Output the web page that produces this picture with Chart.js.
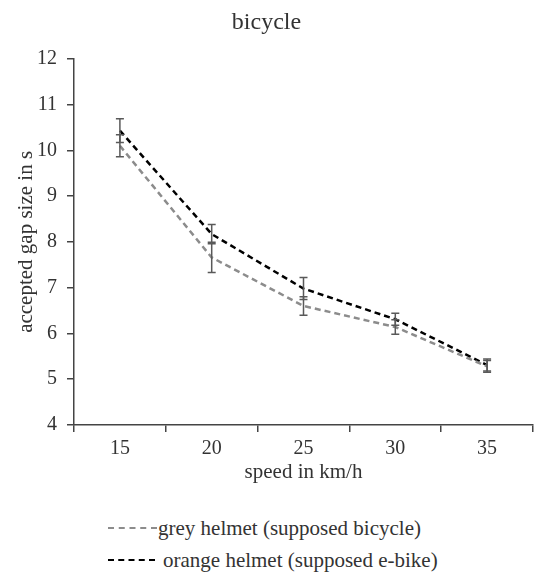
<!DOCTYPE html>
<html>
<head>
<meta charset="utf-8">
<script src="https://cdn.jsdelivr.net/npm/chart.js@4"></script>
<style>
  body { margin: 0; background: #fff; }
  #wrap { position: relative; width: 534px; height: 485px; }
  .legend { position: absolute; left: 108px; font-family: "Liberation Serif", serif; font-size: 21px; line-height: 24px; color: #333; display: flex; align-items: center; }
  .dash { display: inline-block; width: 49px; height: 0; border-top: 2.5px dashed; margin-right: 1px; }
</style>
</head>
<body>
<div id="wrap"><canvas id="gapChart" width="534" height="485"></canvas></div>
<div class="legend" style="top:516px"><span class="dash" style="border-color:#8c8c8c"></span>grey helmet (supposed bicycle)</div>
<div class="legend" style="top:548px"><span class="dash" style="border-color:#000;width:47px;margin-right:8px"></span>orange helmet (supposed e-bike)</div>
<script>
var speeds = ["15", "20", "25", "30", "35"]
var greyHelmet = [10.1, 7.66, 6.6, 6.14, 5.28]
var greyErr = [0.24, 0.33, 0.2, 0.16, 0.13]
var orangeHelmet = [10.43, 8.17, 6.98, 6.31, 5.31]
var orangeErr = [0.26, 0.21, 0.24, 0.13, 0.13]

var errorBars = {
    id: "errorBars",
    afterDatasetsDraw(chart){
        var ctx = chart.ctx
        var y = chart.scales.y
        chart.data.datasets.forEach(function(ds, i){
            var meta = chart.getDatasetMeta(i)
            ctx.save()
            ctx.strokeStyle = "#595959"
            ctx.lineWidth = 1.5
            meta.data.forEach(function(pt, j){
                var top = y.getPixelForValue(ds.data[j] + ds.errors[j])
                var bot = y.getPixelForValue(ds.data[j] - ds.errors[j])
                ctx.beginPath()
                ctx.moveTo(pt.x, top); ctx.lineTo(pt.x, bot)
                ctx.moveTo(pt.x - 4, top); ctx.lineTo(pt.x + 4, top)
                ctx.moveTo(pt.x - 4, bot); ctx.lineTo(pt.x + 4, bot)
                ctx.stroke()
            })
            ctx.restore()
        })
    }
}

var canvas = document.querySelector("#gapChart")
var serif = "'Liberation Serif', 'Times New Roman', serif"

var chart = new Chart(canvas, {
    type: "line",
    data: {
        labels: speeds,
        datasets: [{
            label: "grey helmet (supposed bicycle)",
            data: greyHelmet,
            errors: greyErr,
            borderColor: "#8c8c8c",
            borderWidth: 2.5,
            borderDash: [6, 4],
            pointRadius: 0,
            fill: false
        }, {
            label: "orange helmet (supposed e-bike)",
            data: orangeHelmet,
            errors: orangeErr,
            borderColor: "#000",
            borderWidth: 2.5,
            borderDash: [6, 4],
            pointRadius: 0,
            fill: false
        }]
    },
    options: {
        responsive: false,
        animation: false,
        layout: { padding: { top: 0, right: 1, bottom: 0, left: 0 } },
        plugins: {
            legend: { display: false },
            tooltip: { enabled: false },
            title: {
                display: true,
                text: "bicycle",
                color: "#333",
                font: { family: serif, size: 24, weight: "normal" },
                padding: { top: 8, bottom: 22 }
            }
        },
        scales: {
            x: {
                offset: true,
                afterFit: function(s){ s.height = 60 },
                border: { color: "#444", width: 1.5 },
                grid: { offset: true, drawOnChartArea: false, tickLength: 7, color: "#444", lineWidth: 1.5 },
                ticks: { color: "#333", font: { family: serif, size: 20 }, padding: 5 },
                title: { display: true, text: "speed in km/h", color: "#333", font: { family: serif, size: 21 }, padding: 0 }
            },
            y: {
                min: 4,
                max: 12,
                afterFit: function(s){ s.width = 74 },
                border: { color: "#444", width: 1.5 },
                grid: { drawOnChartArea: false, tickLength: 7, color: "#444", lineWidth: 1.5 },
                ticks: { stepSize: 1, color: "#333", font: { family: serif, size: 20 }, padding: 10 },
                title: { display: true, text: "accepted gap size in s", color: "#333", font: { family: serif, size: 21 }, padding: { top: 14, bottom: 0 } }
            }
        }
    },
    plugins: [errorBars]
})
</script>
</body>
</html>
